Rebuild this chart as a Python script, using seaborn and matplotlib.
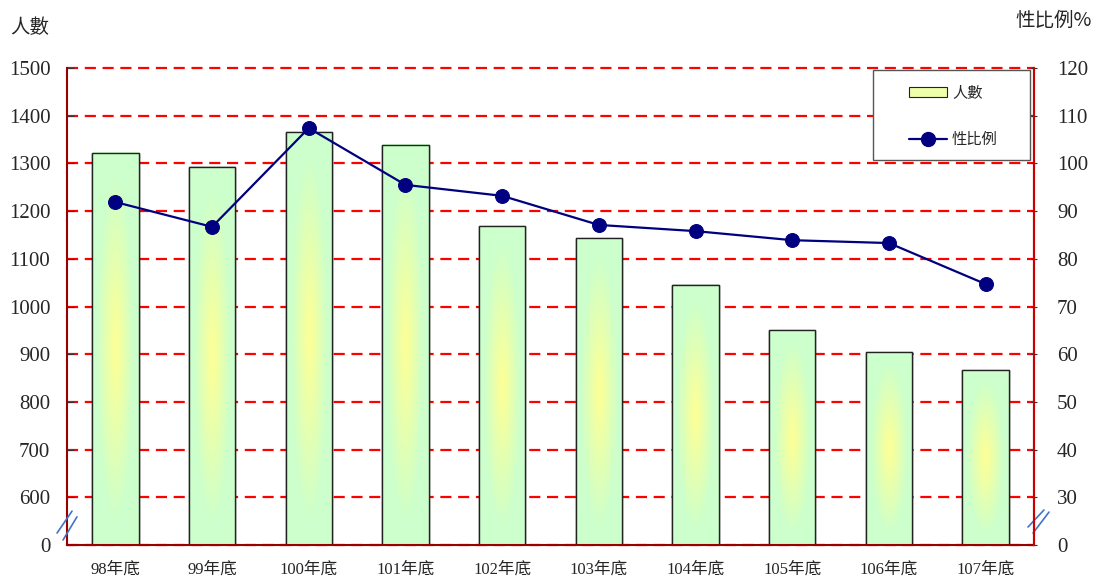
import numpy as np
import pandas as pd
from matplotlib import pyplot as plt
from matplotlib.lines import Line2D
from matplotlib.patches import Patch, Rectangle
import seaborn as sns

years = ['98年底', '99年底', '100年底', '101年底', '102年底',
         '103年底', '104年底', '105年底', '106年底', '107年底']
people = [1322, 1292, 1366, 1339, 1169, 1144, 1045, 951, 905, 867]
sex_ratio = [91.9, 86.7, 107.4, 95.5, 93.2, 87.1, 85.8, 83.9, 83.3, 74.7]

left_ticks = [500, 600, 700, 800, 900, 1000, 1100, 1200, 1300, 1400, 1500]
left_labels = ['0', '600', '700', '800', '900', '1000', '1100', '1200', '1300', '1400', '1500']
right_ticks = [20, 30, 40, 50, 60, 70, 80, 90, 100, 110, 120]
right_labels = ['0', '30', '40', '50', '60', '70', '80', '90', '100', '110', '120']

sns.set_style('white')
plt.rcParams['font.family'] = ['Liberation Serif', 'Noto Sans CJK TC', 'DejaVu Sans']

df = pd.DataFrame({'year': years, 'people': people, 'ratio': sex_ratio})

fig = plt.figure(figsize=(10.98, 5.81), dpi=100)
ax = fig.add_axes([67 / 1098, 1 - 545 / 581, 967 / 1098, 477 / 581])

sns.barplot(data=df, x='year', y='people', ax=ax, width=0.48,
            color='#ccffcc', edgecolor='#222222', linewidth=1, saturation=1, zorder=2)

ybottom = 500
# radial green/yellow fill inside each visible bar
green = np.array([0.80, 1.0, 0.80])
yellow = np.array([1.0, 1.0, 0.58])
bars = list(ax.patches)
for p in bars:
    x0, w, top = p.get_x(), p.get_width(), p.get_y() + p.get_height()
    gx, gy = np.meshgrid(np.linspace(-1, 1, 60), np.linspace(-1, 1, 200))
    r = np.clip(np.sqrt((gx / 0.8) ** 2 + (gy / 0.9) ** 2), 0, 1)
    img = yellow * (1 - r[..., None]) + green * r[..., None]
    ax.imshow(img, extent=[x0, x0 + w, ybottom, top], origin='lower',
              aspect='auto', zorder=2.1, interpolation='bilinear')
    ax.add_patch(Rectangle((x0, ybottom), w, top - ybottom, fill=False,
                           edgecolor='#222222', linewidth=1, zorder=2.2))

ax.set_xlim(-0.5, len(years) - 0.5)
ax.set_ylim(ybottom, 1500)
ax.set_yticks(left_ticks)
ax.set_yticklabels(left_labels, fontsize=15)
ax.set_xticks(range(len(years)))
ax.set_xticklabels(years, fontsize=12)
ax.set_xticks(np.arange(0.5, len(years) - 1, 1), minor=True)
ax.tick_params(axis='x', which='major', length=0, pad=12)
ax.tick_params(axis='x', which='minor', length=5, direction='in', color='#333333')
ax.tick_params(axis='y', length=5, direction='in', color='#333333', pad=12)
ax.set_xlabel('')
ax.set_ylabel('')
ax.set_axisbelow(True)
ax.yaxis.grid(True, color='red', linestyle=(0, (5, 3)), linewidth=1.6)
for gl in ax.yaxis.get_gridlines():
    gl.set_clip_on(False)
for s in ['left', 'bottom', 'right']:
    ax.spines[s].set_color('#990000')
    ax.spines[s].set_linewidth(1.5)
ax.spines['top'].set_visible(False)

ax2 = ax.twinx()
sns.lineplot(x=np.arange(len(years)), y=sex_ratio, ax=ax2, color='#000080',
             linewidth=1.6, marker='o', markersize=10, markeredgecolor='#000080')
ax2.set_ylim(20, 120)
ax2.set_yticks(right_ticks)
ax2.set_yticklabels(right_labels, fontsize=15)
ax2.tick_params(axis='y', length=5, direction='inout', color='#333333', pad=14)
ax2.set_ylabel('')
for s in ['left', 'bottom', 'top']:
    ax2.spines[s].set_visible(False)
ax2.spines['right'].set_color('#cc0000')
ax2.spines['right'].set_linewidth(1.5)

# axis break marks
breaks = [((-0.0103, 0.0052), (0.025, 0.071)), ((-0.0041, 0.0103), (0.0105, 0.059)),
          ((0.9938, 1.0103), (0.0377, 0.0734)), ((0.999, 1.0155), (0.025, 0.069))]
for bx, by in breaks:
    ax2.plot(bx, by, transform=ax2.transAxes, color='#4472c4', linewidth=1.2,
             clip_on=False)

# legend box
ax2.add_patch(Rectangle((0.8335, 0.807), 0.1625, 0.189, transform=ax2.transAxes,
                        facecolor='white', edgecolor='#555555', linewidth=1,
                        zorder=9, clip_on=False))
handles = [Patch(facecolor='#eeffaa', edgecolor='#222222', linewidth=0.8),
           Line2D([0], [0], color='#000080', linewidth=1.6, marker='o', markersize=10)]
leg = ax2.legend(handles, ['人數', '性比例'], loc='center left',
                 bbox_to_anchor=(0.871, 0.899), frameon=False,
                 fontsize=11, labelspacing=1.95, borderpad=0,
                 handlelength=2.5, handleheight=0.6, handletextpad=0.3,
                 borderaxespad=0)
for t in leg.get_texts():
    t.set_family(['Noto Sans CJK TC'])
leg.set_zorder(10)

fig.text(10 / 1098, 1 - 28 / 581, '人數', fontsize=14, va='center', ha='left',
         family=['Noto Sans CJK TC'])
fig.text(1092 / 1098, 1 - 20 / 581, '性比例%', fontsize=14, va='center', ha='right',
         family=['Noto Sans CJK TC', 'Liberation Serif'])

fig.savefig('out.png', dpi=100)
